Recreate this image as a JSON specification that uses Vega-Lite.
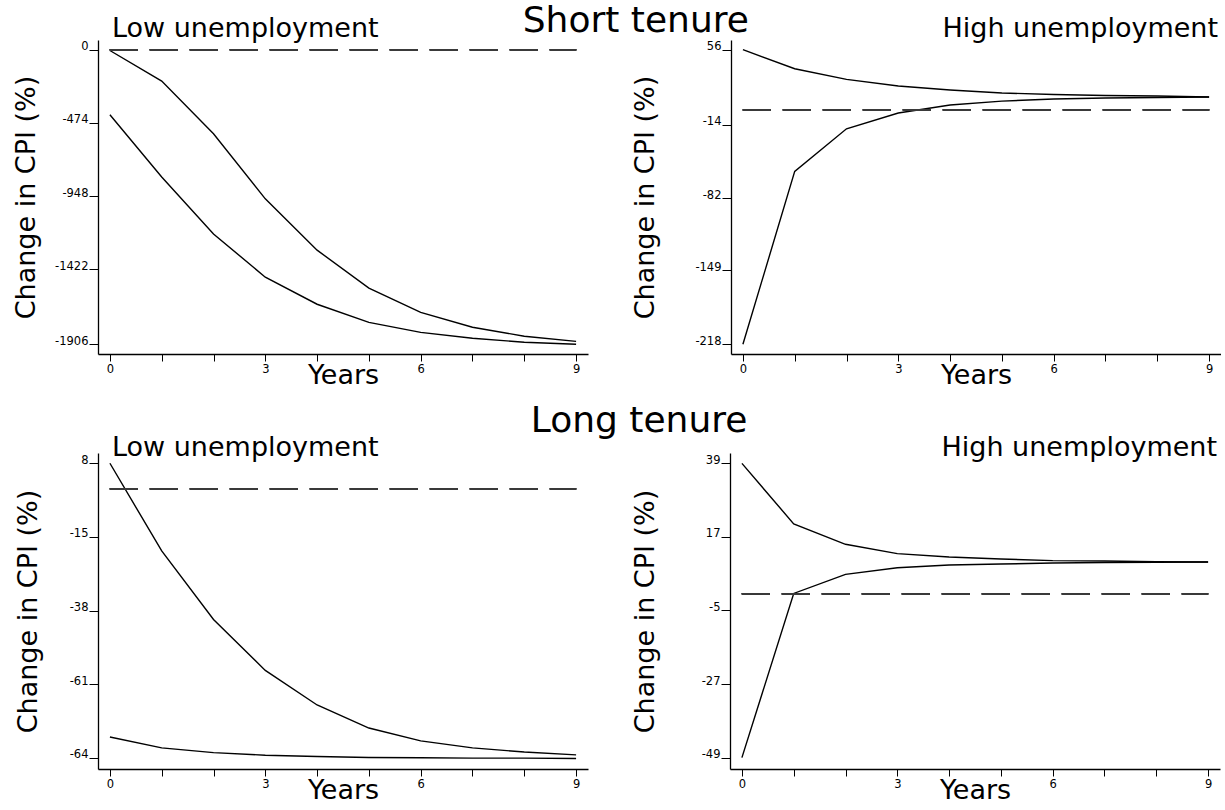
{
  "$schema": "https://vega.github.io/schema/vega-lite/v6.json",
  "background": "white",
  "padding": {"left": 12, "top": 3, "right": 0, "bottom": 0},
  "datasets": {
    "d": [
      {"p": "TL", "s": "a", "t": 0, "v": -5},
      {"p": "TL", "s": "a", "t": 1, "v": -203},
      {"p": "TL", "s": "a", "t": 2, "v": -544},
      {"p": "TL", "s": "a", "t": 3, "v": -965},
      {"p": "TL", "s": "a", "t": 4, "v": -1297},
      {"p": "TL", "s": "a", "t": 5, "v": -1543},
      {"p": "TL", "s": "a", "t": 6, "v": -1700},
      {"p": "TL", "s": "a", "t": 7, "v": -1796},
      {"p": "TL", "s": "a", "t": 8, "v": -1854},
      {"p": "TL", "s": "a", "t": 9, "v": -1887},
      {"p": "TL", "s": "b", "t": 0, "v": -421},
      {"p": "TL", "s": "b", "t": 1, "v": -824},
      {"p": "TL", "s": "b", "t": 2, "v": -1192},
      {"p": "TL", "s": "b", "t": 3, "v": -1472},
      {"p": "TL", "s": "b", "t": 4, "v": -1647},
      {"p": "TL", "s": "b", "t": 5, "v": -1764},
      {"p": "TL", "s": "b", "t": 6, "v": -1829},
      {"p": "TL", "s": "b", "t": 7, "v": -1867},
      {"p": "TL", "s": "b", "t": 8, "v": -1893},
      {"p": "TL", "s": "b", "t": 9, "v": -1906},
      {"p": "TR", "s": "a", "t": 0, "v": 56},
      {"p": "TR", "s": "a", "t": 1, "v": 38.3},
      {"p": "TR", "s": "a", "t": 2, "v": 28.4},
      {"p": "TR", "s": "a", "t": 3, "v": 22.2},
      {"p": "TR", "s": "a", "t": 4, "v": 18.5},
      {"p": "TR", "s": "a", "t": 5, "v": 15.7},
      {"p": "TR", "s": "a", "t": 6, "v": 14.3},
      {"p": "TR", "s": "a", "t": 7, "v": 13.4},
      {"p": "TR", "s": "a", "t": 8, "v": 12.9},
      {"p": "TR", "s": "a", "t": 9, "v": 12.0},
      {"p": "TR", "s": "b", "t": 0, "v": -218},
      {"p": "TR", "s": "b", "t": 1, "v": -57.2},
      {"p": "TR", "s": "b", "t": 2, "v": -17.6},
      {"p": "TR", "s": "b", "t": 3, "v": -2.9},
      {"p": "TR", "s": "b", "t": 4, "v": 4.5},
      {"p": "TR", "s": "b", "t": 5, "v": 8.2},
      {"p": "TR", "s": "b", "t": 6, "v": 10.1},
      {"p": "TR", "s": "b", "t": 7, "v": 11.0},
      {"p": "TR", "s": "b", "t": 8, "v": 11.5},
      {"p": "TR", "s": "b", "t": 9, "v": 12.0},
      {"p": "BL", "s": "a", "t": 0, "v": 8},
      {"p": "BL", "s": "a", "t": 1, "v": -19.4},
      {"p": "BL", "s": "a", "t": 2, "v": -40.8},
      {"p": "BL", "s": "a", "t": 3, "v": -56.7},
      {"p": "BL", "s": "a", "t": 4, "v": -67.5},
      {"p": "BL", "s": "a", "t": 5, "v": -74.7},
      {"p": "BL", "s": "a", "t": 6, "v": -78.7},
      {"p": "BL", "s": "a", "t": 7, "v": -80.9},
      {"p": "BL", "s": "a", "t": 8, "v": -82.2},
      {"p": "BL", "s": "a", "t": 9, "v": -83.1},
      {"p": "BL", "s": "b", "t": 0, "v": -77.5},
      {"p": "BL", "s": "b", "t": 1, "v": -80.9},
      {"p": "BL", "s": "b", "t": 2, "v": -82.4},
      {"p": "BL", "s": "b", "t": 3, "v": -83.2},
      {"p": "BL", "s": "b", "t": 4, "v": -83.6},
      {"p": "BL", "s": "b", "t": 5, "v": -83.9},
      {"p": "BL", "s": "b", "t": 6, "v": -84.0},
      {"p": "BL", "s": "b", "t": 7, "v": -84.1},
      {"p": "BL", "s": "b", "t": 8, "v": -84.1},
      {"p": "BL", "s": "b", "t": 9, "v": -84.2},
      {"p": "BR", "s": "a", "t": 0, "v": 39},
      {"p": "BR", "s": "a", "t": 1, "v": 20.9},
      {"p": "BR", "s": "a", "t": 2, "v": 14.8},
      {"p": "BR", "s": "a", "t": 3, "v": 12.0},
      {"p": "BR", "s": "a", "t": 4, "v": 11.0},
      {"p": "BR", "s": "a", "t": 5, "v": 10.4},
      {"p": "BR", "s": "a", "t": 6, "v": 9.9},
      {"p": "BR", "s": "a", "t": 7, "v": 9.8},
      {"p": "BR", "s": "a", "t": 8, "v": 9.6},
      {"p": "BR", "s": "a", "t": 9, "v": 9.5},
      {"p": "BR", "s": "b", "t": 0, "v": -49},
      {"p": "BR", "s": "b", "t": 1, "v": 0.1},
      {"p": "BR", "s": "b", "t": 2, "v": 5.8},
      {"p": "BR", "s": "b", "t": 3, "v": 7.8},
      {"p": "BR", "s": "b", "t": 4, "v": 8.6},
      {"p": "BR", "s": "b", "t": 5, "v": 8.9},
      {"p": "BR", "s": "b", "t": 6, "v": 9.2},
      {"p": "BR", "s": "b", "t": 7, "v": 9.35},
      {"p": "BR", "s": "b", "t": 8, "v": 9.45},
      {"p": "BR", "s": "b", "t": 9, "v": 9.5}
    ]
  },
  "config": {
    "font": "DejaVu Sans",
    "view": {"stroke": null},
    "axis": {
      "grid": false,
      "domainColor": "#000",
      "domainWidth": 1.3,
      "tickColor": "#000",
      "tickWidth": 1,
      "labelColor": "#000",
      "titleColor": "#000",
      "labelFont": "DejaVu Sans",
      "titleFont": "DejaVu Sans",
      "labelFontSize": 11.5,
      "titleFontSize": 27,
      "titleFontWeight": "normal"
    },
    "axisX": {"tickSize": 7, "labelPadding": 2, "labelFlush": false, "labelOverlap": false, "titlePadding": -12},
    "axisY": {"tickSize": 9, "labelPadding": 1, "labelBaseline": "alphabetic", "labelOverlap": false},
    "title": {"font": "DejaVu Sans", "fontWeight": "normal", "color": "#000"},
    "line": {"color": "#000", "strokeWidth": 1.4}
  },
  "vconcat": [
    {
      "title": {"text": "Short tenure", "fontSize": 36, "anchor": "middle", "offset": -25, "dx": 19},
      "spacing": 43,
      "hconcat": [
        {
          "width": 490, "height": 314,
          "title": {"text": "Low unemployment", "anchor": "start", "frame": "group", "fontSize": 27, "offset": -3, "dx": 14},
          "data": {"name": "d"},
          "transform": [{"filter": "datum.p == 'TL'"}],
          "layer": [
            {
              "mark": "line",
              "encoding": {
                "x": {"field": "t", "type": "quantitative", "scale": {"domain": [-0.23, 9.23], "nice": false, "zero": false},
                      "axis": {"title": "Years", "values": [0,1,2,3,4,5,6,7,8,9], "labelExpr": "datum.value % 3 == 0 ? '' + datum.value : ''"}},
                "y": {"field": "v", "type": "quantitative", "scale": {"domain": [-1969, 63], "nice": false, "zero": false},
                      "axis": {"title": "Change in CPI (%)", "values": [0, -474, -948, -1422, -1906], "labelExpr": "'' + datum.value", "titlePadding": 14}},
                "detail": {"field": "s"}
              }
            },
            {
              "mark": {"type": "rule", "strokeDash": [28, 12], "color": "#3a3a3a", "strokeWidth": 1.3},
              "encoding": {"x": {"datum": 0}, "x2": {"datum": 9}, "y": {"datum": 0}}
            }
          ]
        },
        {
          "width": 490, "height": 314,
          "title": {"text": "High unemployment", "anchor": "end", "frame": "group", "fontSize": 27, "offset": -3, "dx": -3},
          "data": {"name": "d"},
          "transform": [{"filter": "datum.p == 'TR'"}],
          "layer": [
            {
              "mark": "line",
              "encoding": {
                "x": {"field": "t", "type": "quantitative", "scale": {"domain": [-0.23, 9.23], "nice": false, "zero": false},
                      "axis": {"title": "Years", "values": [0,1,2,3,4,5,6,7,8,9], "labelExpr": "datum.value % 3 == 0 ? '' + datum.value : ''"}},
                "y": {"field": "v", "type": "quantitative", "scale": {"domain": [-227, 65], "nice": false, "zero": false},
                      "axis": {"title": "Change in CPI (%)", "values": [56, -14, -82, -149, -218], "labelExpr": "'' + datum.value", "titlePadding": 35}},
                "detail": {"field": "s"}
              }
            },
            {
              "mark": {"type": "rule", "strokeDash": [28, 12], "color": "#3a3a3a", "strokeWidth": 1.3},
              "encoding": {"x": {"datum": 0}, "x2": {"datum": 9}, "y": {"datum": 0}}
            }
          ]
        }
      ]
    },
    {
      "title": {"text": "Long tenure", "fontSize": 36, "anchor": "middle", "offset": -6, "dx": 22},
      "spacing": 43,
      "hconcat": [
        {
          "width": 490, "height": 316,
          "title": {"text": "Low unemployment", "anchor": "start", "frame": "group", "fontSize": 27, "offset": -9, "dx": 14},
          "data": {"name": "d"},
          "transform": [{"filter": "datum.p == 'BL'"}],
          "layer": [
            {
              "mark": "line",
              "encoding": {
                "x": {"field": "t", "type": "quantitative", "scale": {"domain": [-0.23, 9.23], "nice": false, "zero": false},
                      "axis": {"title": "Years", "values": [0,1,2,3,4,5,6,7,8,9], "labelExpr": "datum.value % 3 == 0 ? '' + datum.value : ''"}},
                "y": {"field": "v", "type": "quantitative", "scale": {"domain": [-87.5, 11.2], "nice": false, "zero": false},
                      "axis": {"title": "Change in CPI (%)", "values": [8, -15, -38, -61, -84], "labelExpr": "datum.value == -84 ? '-64' : '' + datum.value", "titlePadding": 27}},
                "detail": {"field": "s"}
              }
            },
            {
              "mark": {"type": "rule", "strokeDash": [28, 12], "color": "#3a3a3a", "strokeWidth": 1.3},
              "encoding": {"x": {"datum": 0}, "x2": {"datum": 9}, "y": {"datum": 0}}
            }
          ]
        },
        {
          "width": 490, "height": 316,
          "title": {"text": "High unemployment", "anchor": "end", "frame": "group", "fontSize": 27, "offset": -9, "dx": -3},
          "data": {"name": "d"},
          "transform": [{"filter": "datum.p == 'BR'"}],
          "layer": [
            {
              "mark": "line",
              "encoding": {
                "x": {"field": "t", "type": "quantitative", "scale": {"domain": [-0.23, 9.23], "nice": false, "zero": false},
                      "axis": {"title": "Years", "values": [0,1,2,3,4,5,6,7,8,9], "labelExpr": "datum.value % 3 == 0 ? '' + datum.value : ''"}},
                "y": {"field": "v", "type": "quantitative", "scale": {"domain": [-52.4, 42.1], "nice": false, "zero": false},
                      "axis": {"title": "Change in CPI (%)", "values": [39, 17, -5, -27, -49], "labelExpr": "'' + datum.value", "titlePadding": 42}},
                "detail": {"field": "s"}
              }
            },
            {
              "mark": {"type": "rule", "strokeDash": [28, 12], "color": "#3a3a3a", "strokeWidth": 1.3},
              "encoding": {"x": {"datum": 0}, "x2": {"datum": 9}, "y": {"datum": 0}}
            }
          ]
        }
      ]
    }
  ],
  "spacing": 14
}
